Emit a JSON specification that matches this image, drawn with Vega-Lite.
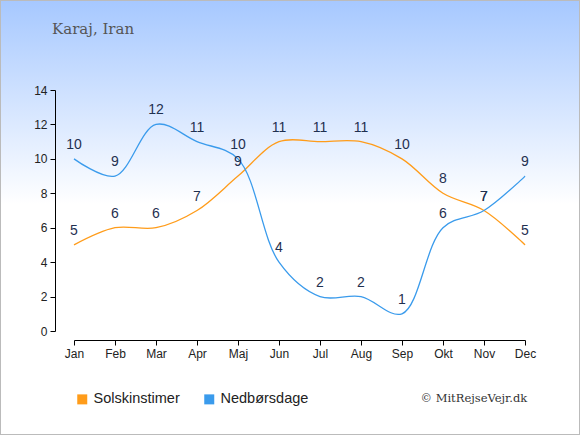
{
  "$schema": "https://vega.github.io/schema/vega-lite/v6.json",
  "width": 580,
  "height": 435,
  "autosize": "none",
  "padding": 0,
  "background": "white",
  "config": {
    "view": {
      "stroke": "#bbbbbb",
      "strokeWidth": 2,
      "fill": {
        "gradient": "linear",
        "x1": 0, "y1": 0, "x2": 0, "y2": 1,
        "stops": [
          {"offset": 0, "color": "#a6c8ff"},
          {"offset": 0.47, "color": "#ffffff"},
          {"offset": 1, "color": "#ffffff"}
        ]
      }
    },
    "axis": {
      "grid": false,
      "domainColor": "#000000",
      "tickColor": "#000000",
      "labelColor": "#222222",
      "labelFont": "Liberation Sans",
      "labelFontSize": 12
    }
  },
  "title": {
    "text": "Karaj, Iran",
    "anchor": "start",
    "orient": "top",
    "offset": -37,
    "dx": 52,
    "font": "DejaVu Serif",
    "fontSize": 15,
    "fontWeight": "normal",
    "color": "#555555"
  },
  "data": {
    "values": [
      {"month": "Jan", "series": "Solskinstimer", "value": 5},
      {"month": "Feb", "series": "Solskinstimer", "value": 6},
      {"month": "Mar", "series": "Solskinstimer", "value": 6},
      {"month": "Apr", "series": "Solskinstimer", "value": 7},
      {"month": "Maj", "series": "Solskinstimer", "value": 9},
      {"month": "Jun", "series": "Solskinstimer", "value": 11},
      {"month": "Jul", "series": "Solskinstimer", "value": 11},
      {"month": "Aug", "series": "Solskinstimer", "value": 11},
      {"month": "Sep", "series": "Solskinstimer", "value": 10},
      {"month": "Okt", "series": "Solskinstimer", "value": 8},
      {"month": "Nov", "series": "Solskinstimer", "value": 7},
      {"month": "Dec", "series": "Solskinstimer", "value": 5},
      {"month": "Jan", "series": "Nedbørsdage", "value": 10},
      {"month": "Feb", "series": "Nedbørsdage", "value": 9},
      {"month": "Mar", "series": "Nedbørsdage", "value": 12},
      {"month": "Apr", "series": "Nedbørsdage", "value": 11},
      {"month": "Maj", "series": "Nedbørsdage", "value": 10},
      {"month": "Jun", "series": "Nedbørsdage", "value": 4},
      {"month": "Jul", "series": "Nedbørsdage", "value": 2},
      {"month": "Aug", "series": "Nedbørsdage", "value": 2},
      {"month": "Sep", "series": "Nedbørsdage", "value": 1},
      {"month": "Okt", "series": "Nedbørsdage", "value": 6},
      {"month": "Nov", "series": "Nedbørsdage", "value": 7},
      {"month": "Dec", "series": "Nedbørsdage", "value": 9}
    ]
  },
  "encoding": {
    "x": {
      "field": "month",
      "type": "ordinal",
      "sort": null,
      "scale": {"type": "point", "padding": 0, "range": [74, 525]},
      "axis": {
        "orient": "bottom",
        "offset": -95,
        "labelAngle": 0,
        "labelPadding": 3,
        "tickSize": 5,
        "title": "© MitRejseVejr.dk",
        "titleX": 420,
        "titleY": 58,
        "titleAlign": "left",
        "titleBaseline": "middle",
        "titleFont": "DejaVu Serif",
        "titleFontSize": 11.5,
        "titleFontWeight": "normal",
        "titleColor": "#333333"
      }
    },
    "y": {
      "field": "value",
      "type": "quantitative",
      "scale": {"domain": [0, 14], "range": [331, 90], "nice": false, "zero": true},
      "axis": {
        "orient": "left",
        "offset": -55,
        "values": [0, 2, 4, 6, 8, 10, 12, 14],
        "tickSize": 5,
        "labelPadding": 3,
        "title": null
      }
    }
  },
  "layer": [
    {
      "mark": {"type": "line", "interpolate": "catmull-rom", "strokeWidth": 1.3},
      "encoding": {
        "color": {
          "field": "series",
          "type": "nominal",
          "scale": {"domain": ["Solskinstimer", "Nedbørsdage"], "range": ["#ff9c1a", "#3a9bec"]},
          "legend": {
            "title": null,
            "orient": "none",
            "legendX": 75,
            "legendY": 392,
            "direction": "horizontal",
            "symbolType": "square",
            "symbolSize": 100,
            "symbolStrokeWidth": 0,
            "labelFont": "Liberation Sans",
            "labelFontSize": 14.5,
            "labelColor": "#222222",
            "columnPadding": 22,
            "encode": {
              "symbols": {
                "update": {
                  "fill": {"scale": "color", "field": "value"},
                  "strokeWidth": {"value": 0}
                }
              }
            }
          }
        }
      }
    },
    {
      "mark": {
        "type": "text",
        "dy": -14,
        "baseline": "middle",
        "font": "Liberation Sans",
        "fontSize": 14,
        "color": "#1f3050"
      },
      "encoding": {
        "text": {"field": "value", "type": "quantitative"}
      }
    }
  ]
}
